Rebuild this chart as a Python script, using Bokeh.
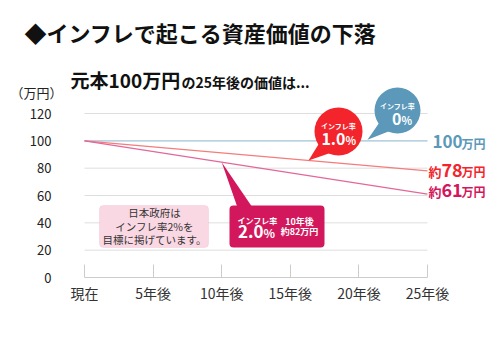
from bokeh.plotting import figure
from bokeh.models import (Range1d, FixedTicker, Label, BoxAnnotation)
from bokeh.embed import file_html
from bokeh.resources import INLINE

# ---------------- data ----------------
years = [0, 25]
rate0 = [100, 100]      # インフレ率 0%
rate1 = [100, 78]       # インフレ率 1.0%
rate2 = [100, 61]       # インフレ率 2.0%
x_ticks = [0, 5, 10, 15, 20, 25]
x_labels = ["現在", "5年後", "10年後", "15年後", "20年後", "25年後"]
y_ticks = [0, 20, 40, 60, 80, 100, 120]
grid_vals = [20, 40, 60, 80, 100, 120]

FONT = "Noto Sans CJK JP"
BLUE = "#5b98b9"
RED = "#f3242b"
MAG = "#d3175c"

W, H = 500, 360
# pixel <-> data helpers (canvas pixel coords)
X0_IMG, X25_IMG = 84, 427
Y0_IMG, Y120_IMG = 277, 113
PX_PER_YEAR = (X25_IMG - X0_IMG) / 25.0
PX_PER_UNIT = (Y0_IMG - Y120_IMG) / 120.0


def dx(ix):
    return (ix - X0_IMG) / PX_PER_YEAR


def dy(iy):
    return (Y0_IMG - iy) / PX_PER_UNIT


p = figure(width=W, height=H, output_backend="svg", toolbar_location=None,
           x_range=Range1d(dx(0), dx(W)),
           y_range=Range1d(dy(H), dy(0)),
           min_border_left=0, min_border_right=0,
           min_border_top=0, min_border_bottom=0)
p.outline_line_color = None
p.background_fill_color = "white"
p.border_fill_color = "white"
p.xgrid.visible = False
p.ygrid.visible = False

# x axis drawn at y = 0 inside the frame
xa = p.xaxis[0]
xa.ticker = FixedTicker(ticks=x_ticks)
xa.fixed_location = y_ticks[0]
xa.major_label_overrides = {t: l for t, l in zip(x_ticks, x_labels)}
xa.bounds = (x_ticks[0], x_ticks[-1])
xa.axis_line_color = "#cccccc"
xa.major_tick_line_color = "#cccccc"
xa.major_tick_in = 13
xa.major_tick_out = 0
xa.minor_tick_line_color = None
xa.major_label_standoff = 5
xa.major_label_text_font = FONT
xa.major_label_text_font_size = "14px"
xa.major_label_text_color = "#333333"

# y axis drawn inside the frame
ya = p.yaxis[0]
ya.ticker = FixedTicker(ticks=y_ticks)
ya.fixed_location = dx(74)
ya.axis_line_color = None
ya.major_tick_line_color = None
ya.minor_tick_line_color = None
ya.major_label_standoff = 17
ya.major_label_text_font = FONT
ya.major_label_text_font_size = "13px"
ya.major_label_text_color = "#222222"

# grid lines (limited to the data span)
p.segment(x0=[years[0]] * len(grid_vals), x1=[years[-1]] * len(grid_vals),
          y0=grid_vals, y1=grid_vals, line_color="#dedede", line_width=1)

# series lines
p.line(years, rate0, line_color="#a9cbe0", line_width=1.3)
p.line(years, rate1, line_color="#f47c7c", line_width=1.3)
p.line(years, rate2, line_color="#e3679a", line_width=1.3)


def on_line(series, x):
    return series[0] + (series[-1] - series[0]) * (x - years[0]) / (years[-1] - years[0])


# ---- callout: 1.0% (red) ----
rc = (338, 131)
tip_x = dx(308)
p.patch([tip_x, dx(321), dx(334)], [on_line(rate1, tip_x), dy(139), dy(151)],
        fill_color=RED, line_color=None)
p.scatter([dx(rc[0])], [dy(rc[1])], size=48, marker="circle", fill_color=RED, line_color=None)

# ---- callout: 0% (blue) ----
bc = (397, 110)
tip_x = dx(367)
p.patch([tip_x, dx(381), dx(393)], [on_line(rate0, tip_x) + 0.8, dy(119), dy(129)],
        fill_color=BLUE, line_color=None)
p.scatter([dx(bc[0])], [dy(bc[1])], size=46, marker="circle", fill_color=BLUE, line_color=None)

# ---- callout: 2.0% (magenta box) ----
tip_x = x_ticks[2]
p.patch([tip_x, dx(237), dx(252)], [on_line(rate2, tip_x), dy(207), dy(207)],
        fill_color=MAG, line_color=None)
p.add_layout(BoxAnnotation(left=dx(229), right=dx(324), top=dy(205), bottom=dy(247),
                           fill_color=MAG, fill_alpha=1, line_color=None, border_radius=4))

# ---- pink note box ----
p.add_layout(BoxAnnotation(left=dx(99), right=dx(208), top=dy(205), bottom=dy(247),
                           fill_color="#fad8e3", fill_alpha=1, line_color="#ebb3c6",
                           line_width=1, border_radius=4))


def txt(ix, iy, s, size, color, align="left", bold=True):
    p.add_layout(Label(x=dx(ix), y=dy(iy), text=s, text_font=FONT,
                       text_font_size=f"{size}px",
                       text_font_style="bold" if bold else "normal",
                       text_color=color, text_align=align, text_baseline="middle"))


# titles
txt(24, 31, "◆インフレで起こる資産価値の下落", 22, "#111111")
txt(70, 79, "元本100万円", 19, "#111111")
txt(181, 81, "の25年後の価値は...", 14, "#111111")
txt(62, 92, "（万円）", 13, "#222222", align="right", bold=False)

# callout texts
txt(338, 125, "インフレ率", 7, "white", align="center")
txt(345, 138, "1.0", 16, "white", align="right")
txt(345, 139, "%", 11, "white", align="left")
txt(397, 105, "インフレ率", 7, "white", align="center")
txt(401, 118, "0", 16, "white", align="right")
txt(401, 119, "%", 11, "white", align="left")
txt(257, 220, "インフレ率", 8, "white", align="center")
txt(263, 231, "2.0", 17, "white", align="right")
txt(263, 232, "%", 12, "white", align="left")
txt(299, 221, "10年後", 9, "white", align="center")
txt(299, 231, "約82万円", 9, "white", align="center")

# note box text
for iy, s in [(212, "日本政府は"), (226, "インフレ率2%を"), (239, "目標に掲げています。")]:
    txt(154, iy, s, 10.5, "#333333", align="center", bold=False)

# end labels
txt(432, 141, "100", 17, BLUE)
txt(461, 143, "万円", 12, BLUE)
txt(428, 171, "約", 13, RED)
txt(441, 169, "78", 18, RED)
txt(461, 171, "万円", 12, RED)
txt(428, 191, "約", 13, MAG)
txt(441, 189, "61", 18, MAG)
txt(461, 191, "万円", 12, MAG)

open("out.html", "w").write(file_html(p, INLINE))
